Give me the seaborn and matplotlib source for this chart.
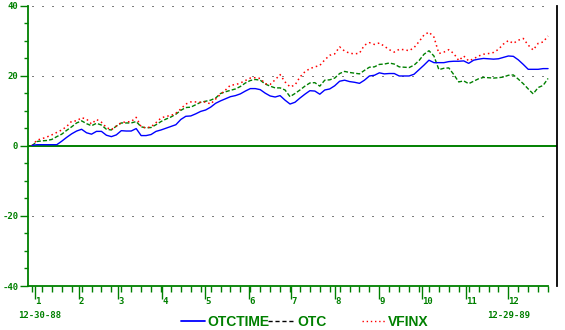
import matplotlib
matplotlib.use("Agg")
import matplotlib.pyplot as plt
import pandas as pd
import seaborn as sns
from matplotlib.lines import Line2D
from matplotlib.ticker import FixedLocator, MultipleLocator

# ---------------- data (half-weekly readings, % change since 12-30-88) ----------------
start_date = "1988-12-30"
n_points = 105          # one reading every 3.5 days, 12-30-88 .. 12-29-89
otctime = [0.1, 0.3, 0.3, 0.3, 0.3, 0.3, 1.3, 2.4, 3.4, 4.2,
           4.7, 3.7, 3.3, 4.1, 4.1, 3.0, 2.6, 3.1, 4.3, 4.2,
           4.2, 4.9, 2.9, 2.9, 3.2, 4.1, 4.5, 5.0, 5.5, 6.0,
           7.5, 8.4, 8.5, 9.1, 9.8, 10.2, 11.0, 12.1, 12.8, 13.4,
           14.0, 14.3, 14.8, 15.6, 16.3, 16.3, 16.0, 15.0, 14.2, 13.9,
           14.3, 13.0, 11.9, 12.4, 13.6, 14.7, 15.7, 15.6, 14.7, 15.9,
           16.2, 17.1, 18.4, 18.7, 18.3, 18.1, 17.8, 18.7, 19.9, 20.1,
           20.8, 20.5, 20.6, 20.6, 19.9, 19.9, 19.9, 20.4, 21.7, 23.0,
           24.4, 23.7, 23.7, 23.7, 24.0, 24.1, 24.1, 24.2, 23.5, 24.4,
           24.7, 24.9, 24.8, 24.7, 24.8, 25.2, 25.6, 25.5, 24.5, 23.2,
           21.8, 21.8, 21.8, 22.0, 22.0]
otc = [0.0, 1.2, 1.4, 1.5, 1.8, 2.6, 3.3, 4.4, 5.4, 6.5,
       7.1, 6.3, 5.7, 6.4, 5.9, 4.7, 4.5, 5.6, 6.5, 6.5,
       6.5, 6.9, 5.4, 5.1, 5.2, 6.0, 6.9, 7.6, 8.2, 9.0,
       10.1, 10.9, 11.0, 11.7, 12.4, 12.7, 13.0, 13.6, 14.9, 15.4,
       15.8, 16.2, 16.9, 17.9, 18.6, 18.9, 18.7, 17.6, 17.0, 16.5,
       16.5, 15.9, 14.0, 14.9, 15.9, 17.0, 17.9, 18.0, 17.0, 18.7,
       18.8, 19.3, 20.6, 21.2, 20.9, 20.7, 20.5, 21.5, 22.4, 22.5,
       23.2, 23.3, 23.6, 23.3, 22.5, 22.4, 22.3, 23.0, 24.3, 26.1,
       27.1, 25.6, 21.7, 22.1, 22.2, 20.3, 18.2, 18.5, 17.7, 18.4,
       19.1, 19.5, 19.4, 19.3, 19.4, 19.6, 20.1, 20.2, 19.0, 17.7,
       16.2, 14.8, 16.6, 17.2, 19.2]
vfinx = [0.0, 1.6, 2.0, 2.5, 3.1, 3.8, 4.5, 5.5, 7.0, 7.1,
         8.0, 7.6, 6.2, 7.5, 6.7, 5.2, 4.6, 5.6, 6.6, 6.8,
         6.9, 8.1, 5.4, 5.1, 5.4, 6.6, 7.9, 8.4, 8.6, 9.3,
         10.5, 11.9, 12.5, 12.5, 12.4, 12.5, 11.9, 13.3, 14.7, 15.9,
         17.3, 17.4, 17.9, 18.6, 19.3, 19.4, 19.2, 17.7, 17.5, 18.8,
         20.3, 18.2, 16.8, 17.3, 19.6, 21.1, 22.0, 22.5, 22.9, 24.5,
         25.8, 26.2, 28.2, 27.0, 26.4, 26.2, 26.4, 28.7, 29.4, 28.9,
         29.3, 28.4, 27.4, 26.7, 27.5, 27.4, 27.1, 28.0, 29.7, 31.6,
         32.4, 31.0, 26.3, 26.7, 27.4, 26.3, 24.3, 25.6, 24.2, 24.8,
         25.6, 26.1, 26.3, 26.6, 27.5, 29.0, 30.0, 29.2, 30.1, 30.6,
         28.7, 27.3, 29.2, 29.6, 31.3]
series_names = ["OTCTIME", "OTC", "VFINX"]
month_labels = ["1", "2", "3", "4", "5", "6", "7", "8", "9", "10", "11", "12"]
y_major = [-40, -20, 0, 20, 40]
y_grid = [40, 20, -20]
start_label = "12-30-88"
end_label = "12-29-89"

# ---------------- styling ----------------
GREEN = "#008000"
BLUE = "#0000ff"
RED = "#ff0000"
TICK_FONT = {"family": ["DejaVu Sans Mono", "DejaVu Sans"], "size": 6.5, "weight": "bold"}
LEG_FONT = {"family": ["Liberation Sans", "DejaVu Sans"], "size": 10, "weight": "bold"}

dates = pd.date_range(start_date, periods=n_points, freq="84h")
df = pd.DataFrame({"date": dates, "OTCTIME": otctime, "OTC": otc, "VFINX": vfinx})

sns.set_theme(style="white")
fig = plt.figure(figsize=(5.65, 3.3), dpi=100)
fig.patch.set_facecolor("white")
W, H = 565, 330
ax = fig.add_axes([28 / W, 1 - 286 / H, (557 - 28) / W, (286 - 5.5) / H])
ax.set_facecolor("white")

# reference lines
for yv in y_grid:
    ax.hlines(yv, dates[0], dates[-1], colors="black", linewidth=0.72,
              linestyles=[(0, (1, 9))], clip_on=False, zorder=1)
ax.axhline(0, color=GREEN, linewidth=1.4, zorder=1)

sns.lineplot(data=df, x="date", y="OTCTIME", color=BLUE, linewidth=1.0, ax=ax, zorder=3)
sns.lineplot(data=df, x="date", y="OTC", color=GREEN, linewidth=1.0,
             linestyle=(0, (3, 1.5)), ax=ax, zorder=2)
sns.lineplot(data=df, x="date", y="VFINX", color=RED, linewidth=1.1,
             linestyle=(0, (1, 2)), ax=ax, zorder=2)

# axes limits
ax.set_xlim(dates[0] - pd.Timedelta(days=2.8), dates[-1] + pd.Timedelta(days=6.3))
ax.set_ylim(-40, 40)
ax.set_xlabel("")
ax.set_ylabel("")

# spines
ax.spines["top"].set_visible(False)
ax.spines["right"].set_color("black")
ax.spines["right"].set_linewidth(1.3)
ax.spines["left"].set_color(GREEN)
ax.spines["left"].set_linewidth(1.3)
ax.spines["bottom"].set_color(GREEN)
ax.spines["bottom"].set_linewidth(1.3)
ax.spines["bottom"].set_bounds(ax.get_xlim()[0], matplotlib.dates.date2num(dates[-1]))

# y ticks
ax.yaxis.set_major_locator(FixedLocator(y_major))
ax.yaxis.set_minor_locator(MultipleLocator(5))
ax.set_yticklabels([str(v) for v in y_major], fontdict=TICK_FONT, color=GREEN)
ax.tick_params(axis="y", which="major", length=6, width=1, color=GREEN, pad=1, left=True)
ax.tick_params(axis="y", which="minor", length=3, width=1, color=GREEN, left=True)

# x ticks: month starts (major), weekly (minor)
month_starts = pd.date_range("1989-01-01", periods=12, freq="MS")
ax.set_xticks(month_starts)
ax.set_xticklabels(month_labels, fontdict=TICK_FONT, color=GREEN, ha="left")
ax.set_xticks(dates[::2], minor=True)
ax.tick_params(axis="x", which="major", length=9, width=1, color=GREEN, pad=-1, bottom=True)
ax.tick_params(axis="x", which="minor", length=4, width=1, color=GREEN, bottom=True)
ax.grid(False)

# date captions
for txt, xpos in [(start_label, 18), (end_label, 487)]:
    fig.text(xpos / W, 1 - 315 / H, txt, ha="left", va="center", color=GREEN,
             family=TICK_FONT["family"], size=6.5, weight="bold")

# legend: three entries placed like the original
handles = [Line2D([], [], color=BLUE, linewidth=1.3),
           Line2D([], [], color="black", linewidth=1.0, linestyle=(0, (3, 2))),
           Line2D([], [], color=RED, linewidth=1.0, linestyle=(0, (1, 2)))]
leg_x = [181, 268, 362]
leg_len = [1.73, 1.94, 1.65]
for h, name, lx, ll in zip(handles, series_names, leg_x, leg_len):
    fig.legend([h], [name], loc="center left", bbox_to_anchor=(lx / W, 1 - 322 / H),
               frameon=False, labelcolor=GREEN, prop=LEG_FONT,
               handlelength=ll, handletextpad=0.2, borderpad=0, borderaxespad=0)

fig.savefig("out.png", dpi=100, facecolor="white")
